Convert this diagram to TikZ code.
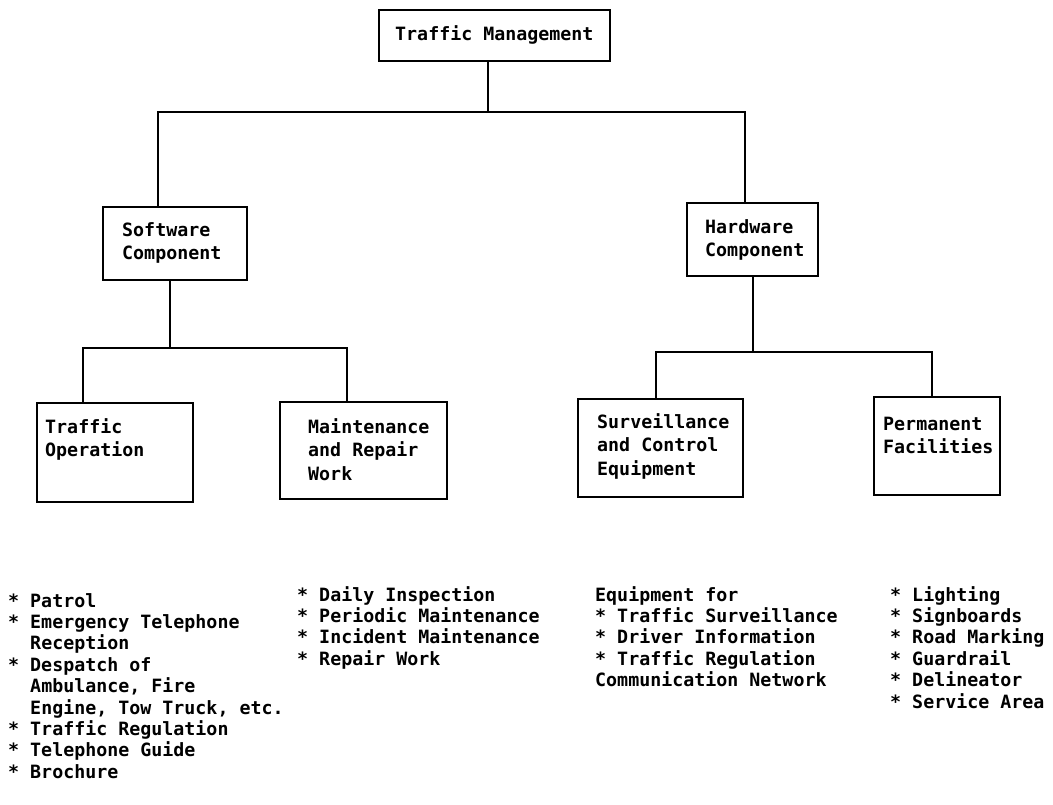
\documentclass[tikz,border=0pt]{standalone}
\usepackage{fontspec}
\setmainfont{DejaVu Sans Mono}
\begin{document}
\begin{tikzpicture}[x=1pt,y=-1pt,
  box/.style={draw, line width=1.8pt, inner sep=0pt},
  link/.style={line width=1.8pt},
  % multi-line nodes: the base anchor sits on the last line's baseline
  boxtext/.style={anchor=base west, inner sep=0pt, align=left,
    font=\bfseries\fontsize{18.3}{23.5}\selectfont},
  listtext/.style={anchor=base west, inner sep=0pt, align=left,
    font=\bfseries\fontsize{18.3}{21.4}\selectfont}]
\useasboundingbox (0,0) rectangle (1053,804);

% boxes
\node[box, minimum width=231pt, minimum height=51pt] (top) at (494.5,35.5) {};
\node[box, minimum width=144pt, minimum height=73pt] (sw) at (175,243.5) {};
\node[box, minimum width=131pt, minimum height=73pt] (hw) at (752.5,239.5) {};
\node[box, minimum width=156pt, minimum height=99pt] (to) at (115,452.5) {};
\node[box, minimum width=167pt, minimum height=97pt] (mr) at (363.5,450.5) {};
\node[box, minimum width=165pt, minimum height=98pt] (sc) at (660.5,448) {};
\node[box, minimum width=126pt, minimum height=98pt] (pf) at (937,446) {};

% box labels
\node[boxtext] (topt) at (395,40) {Traffic Management};
\node[boxtext] (swt) at (122,259.5) {Software\\Component};
\node[boxtext] (hwt) at (705,256.5) {Hardware\\Component};
\node[boxtext] (tot) at (45,456.5) {Traffic\\Operation};
\node[boxtext] (mrt) at (308,480) {Maintenance\\and Repair\\Work};
\node[boxtext] (sct) at (597,475) {Surveillance\\and Control\\Equipment};
\node[boxtext] (pft) at (883,453.5) {Permanent\\Facilities};

% tree connectors
\coordinate (j1) at (488,112);
\coordinate (sL) at (158,112);
\coordinate (hL) at (745,112);
\draw[link] (top.south -| j1) -- (j1);
\draw[link] (sw.north -| sL) -- (sL) -- (hL) -- (hw.north -| hL);

\coordinate (j2) at (170,348);
\coordinate (tL) at (83,348);
\coordinate (mL) at (347,348);
\draw[link] (sw.south -| j2) -- (j2);
\draw[link] (to.north -| tL) -- (tL) -- (mL) -- (mr.north -| mL);

\coordinate (j3) at (753,352);
\coordinate (cL) at (656,352);
\coordinate (pL) at (932,352);
\draw[link] (hw.south -| j3) -- (j3);
\draw[link] (sc.north -| cL) -- (cL) -- (pL) -- (pf.north -| pL);

% item lists
\node[listtext] (l1) at (8,778.2) {* Patrol\\
* Emergency Telephone\\
\phantom{* }Reception\\
* Despatch of\\
\phantom{* }Ambulance, Fire\\
\phantom{* }Engine, Tow Truck, etc.\\
* Traffic Regulation\\
* Telephone Guide\\
* Brochure};
\node[listtext] (l2) at (297,665.2) {* Daily Inspection\\
* Periodic Maintenance\\
* Incident Maintenance\\
* Repair Work};
\node[listtext] (l3) at (595,686.6) {Equipment for\\
* Traffic Surveillance\\
* Driver Information\\
* Traffic Regulation\\
Communication Network};
\node[listtext] (l4) at (890,708) {* Lighting\\
* Signboards\\
* Road Marking\\
* Guardrail\\
* Delineator\\
* Service Area};
\end{tikzpicture}
\end{document}
